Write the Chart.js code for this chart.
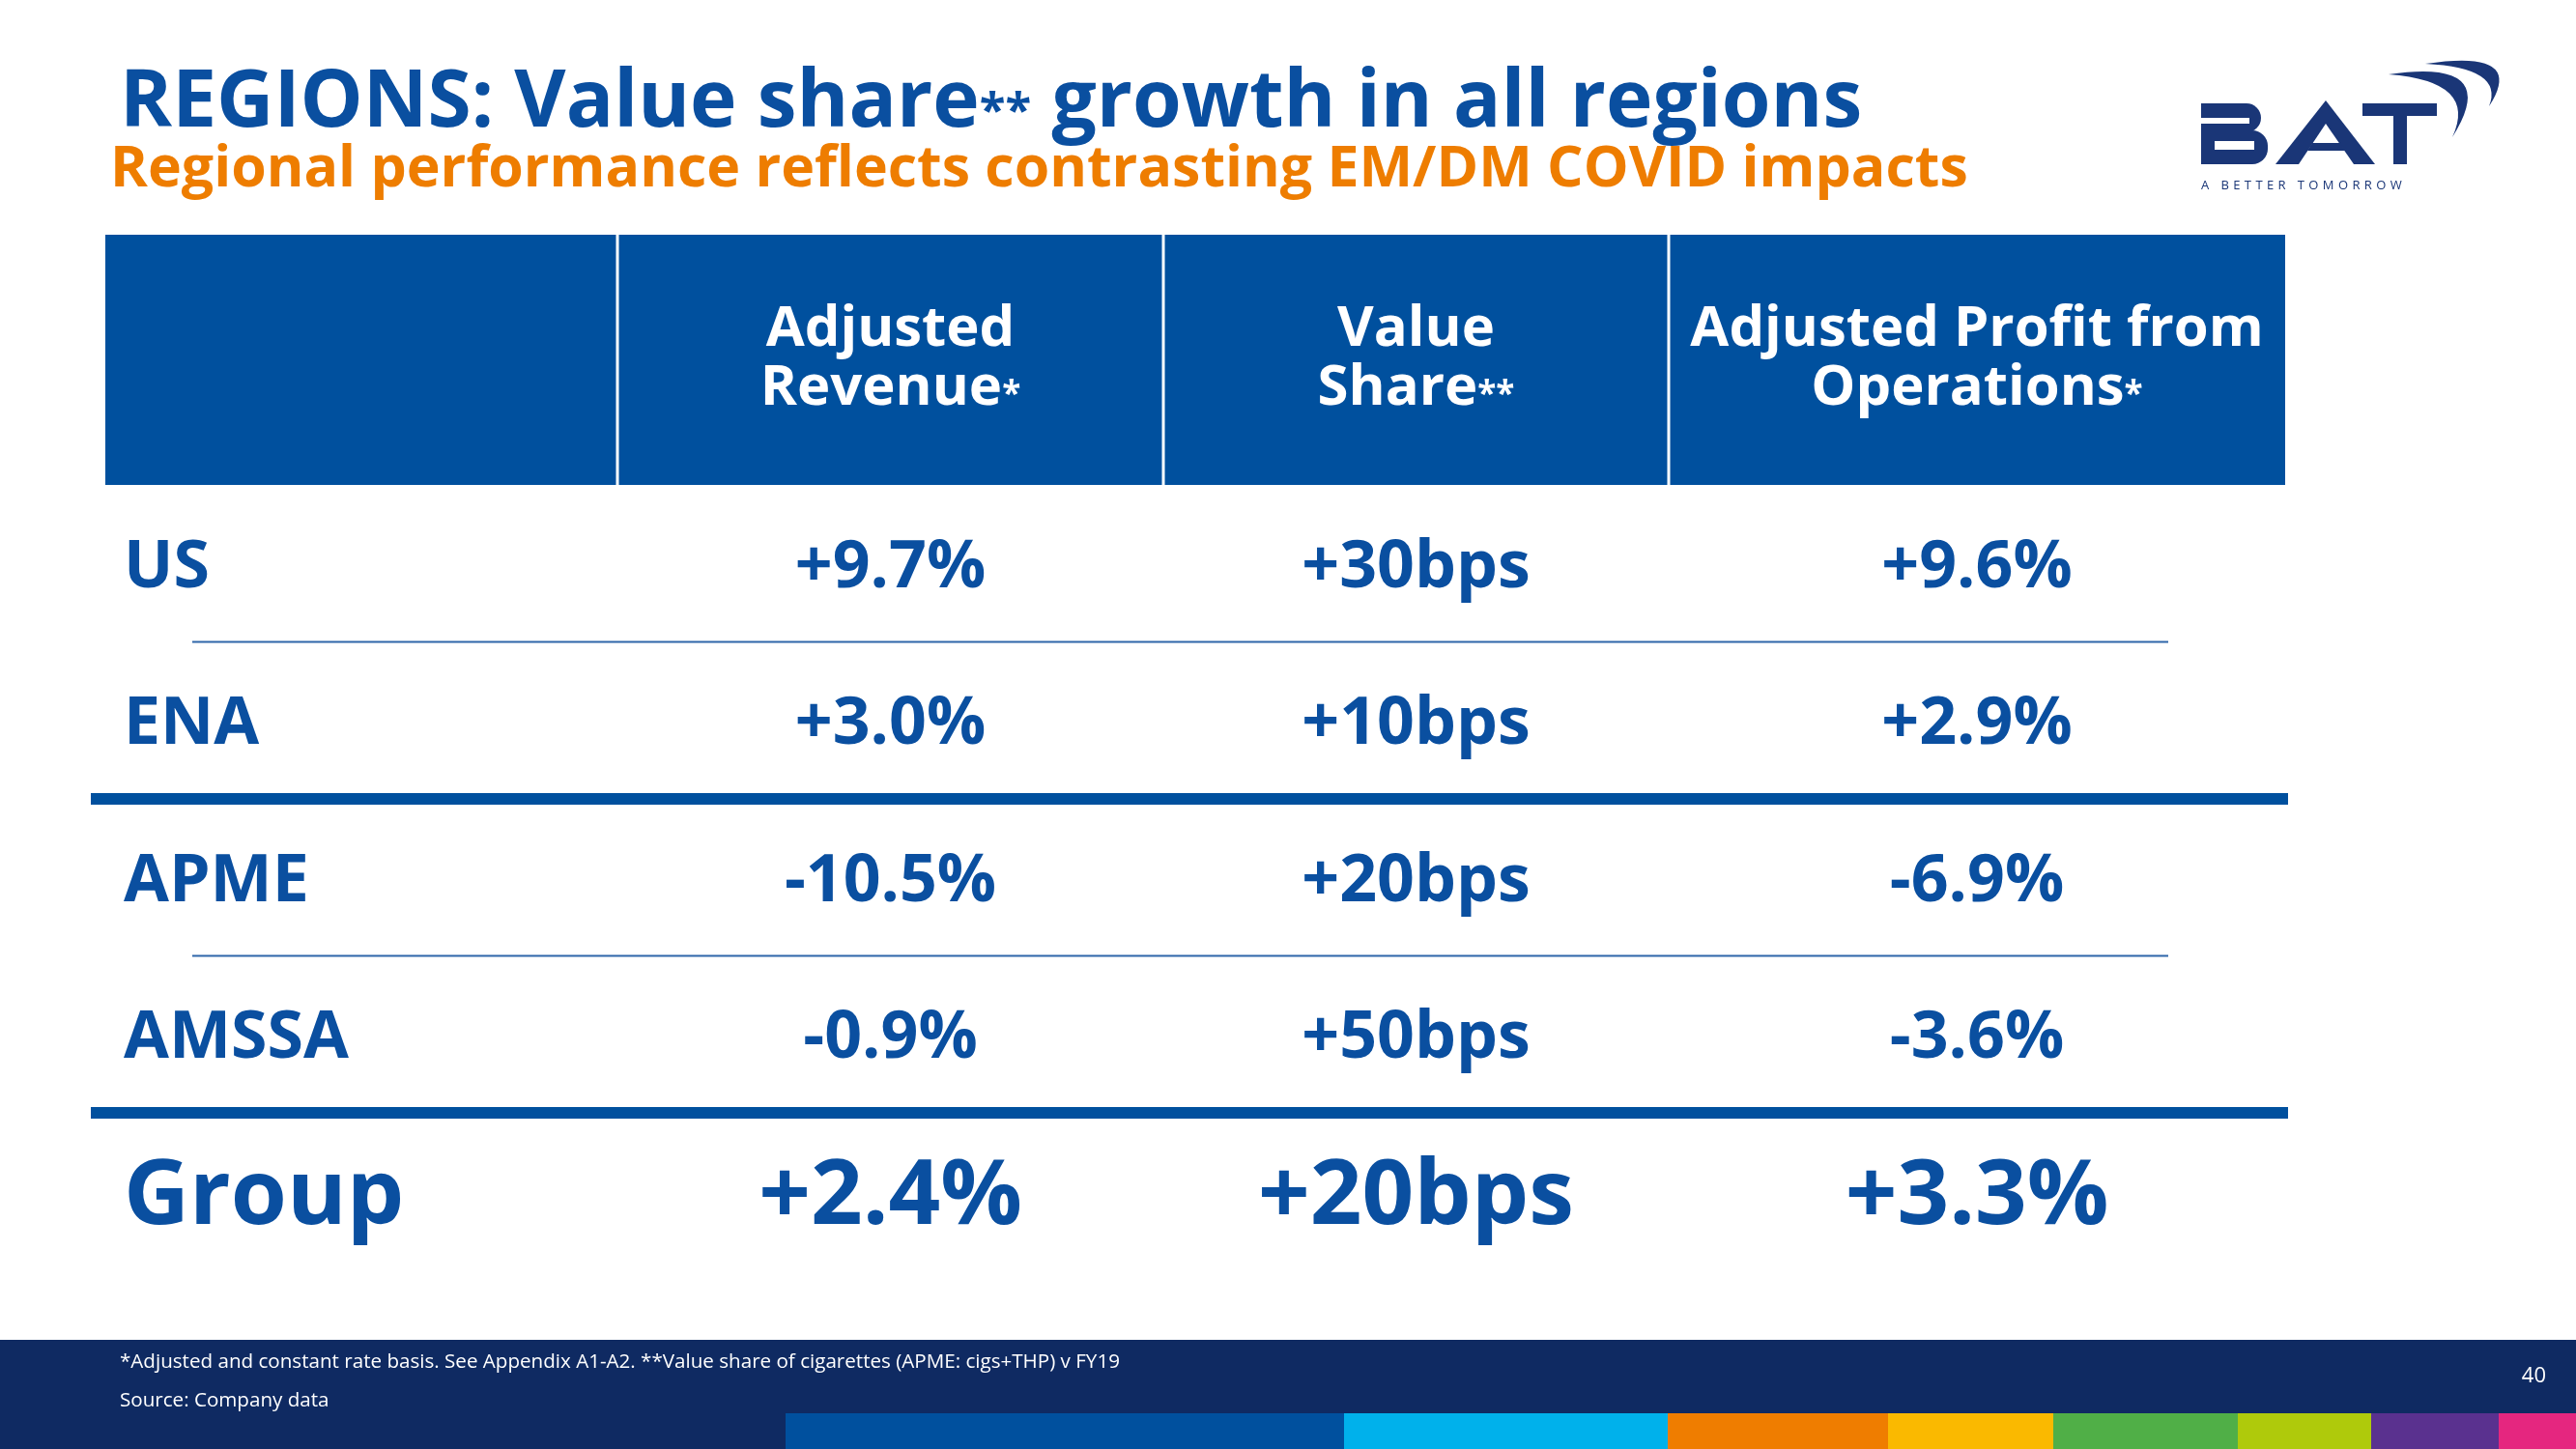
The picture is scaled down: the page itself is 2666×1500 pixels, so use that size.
<!DOCTYPE html>
<html>
<head>
<meta charset="utf-8">
<title>REGIONS: Value share growth in all regions</title>
<script src="https://cdn.jsdelivr.net/npm/chart.js@4.4.1/dist/chart.umd.min.js"></script>
<style>
  html, body { margin: 0; padding: 0; background: #fff; }
  #wrap { width: 2666px; height: 1500px; }
</style>
</head>
<body>
<div id="wrap"><canvas id="slide" width="2666" height="1500"></canvas></div>
<script>
// ---- data ----
const titleText = 'REGIONS: Value share** growth in all regions';
const subtitleText = 'Regional performance reflects contrasting EM/DM COVID impacts';
const regions = ['US', 'ENA', 'APME', 'AMSSA', 'Group'];
const metrics = [['Adjusted', 'Revenue*'], ['Value', 'Share**'], ['Adjusted Profit from', 'Operations*']];
const adjRevenue = ['+9.7%', '+3.0%', '-10.5%', '-0.9%', '+2.4%'];
const valueShare = ['+30bps', '+10bps', '+20bps', '+50bps', '+20bps'];
const adjProfit = ['+9.6%', '+2.9%', '-6.9%', '-3.6%', '+3.3%'];
const footnotes = ['*Adjusted and constant rate basis. See Appendix A1-A2. **Value share of cigarettes (APME: cigs+THP) v FY19', 'Source: Company data'];
const pageNumber = '40';

// ---- layout and style ----
const FONT = '"Open Sans", "Noto Sans", sans-serif';
const INK = '#0a4fa0';
const HEAD_BG = '#00509e';
const ORANGE = '#ee7d00';
const NAVY = '#0f2a62';
const LOGO = '#1a3677';
const colWidths = [530, 565, 523, 638];       // label column + 3 metric columns
const HEADER_H = 259;
const ROW_SIZE = 68, GROUP_SIZE = 94, HEAD_SIZE = 58;
const rowRules = ['thin', 'thick', 'thin', 'thick'];
const stripeColours = ['#00509e', '#00b1eb', '#ef7d00', '#fab900', '#50af47', '#afca0b', '#5a318f', '#e5267f'];
const stripeEdges = [813, 1391, 1726, 1954, 2125, 2316, 2454, 2586, 2666];

const colEdge = k => colWidths.slice(0, k).reduce((s, w) => s + w, 0);
const colMid = k => colEdge(k) + colWidths[k] / 2;

// draw text where runs of '*' are set smaller
function drawRich(ctx, text, x, y, size, align, weight, color) {
  const parts = text.split(/(\*+)/).filter(p => p.length);
  const fontFor = p => `${weight} ${p[0] === '*' ? Math.round(size * 0.6) : size}px ${FONT}`;
  let total = 0;
  const widths = parts.map(p => { ctx.font = fontFor(p); const w = ctx.measureText(p).width; total += w; return w; });
  let cx = align === 'center' ? x - total / 2 : align === 'right' ? x - total : x;
  ctx.textAlign = 'left';
  ctx.textBaseline = 'alphabetic';
  ctx.fillStyle = color;
  parts.forEach((p, i) => { ctx.font = fontFor(p); ctx.fillText(p, cx, y); cx += widths[i]; });
}

function roundRight(ctx, x0, y0, x1, y1, r) {
  ctx.beginPath();
  ctx.moveTo(x0, y0);
  ctx.lineTo(x1 - r, y0);
  ctx.arcTo(x1, y0, x1, y0 + r, r);
  ctx.lineTo(x1, y1 - r);
  ctx.arcTo(x1, y1, x1 - r, y1, r);
  ctx.lineTo(x0, y1);
  ctx.closePath();
  ctx.fill();
}

function drawLogo(ctx) {
  ctx.save();
  ctx.fillStyle = LOGO;
  // B
  roundRight(ctx, 2278, 107, 2340, 137, 15);
  roundRight(ctx, 2278, 135, 2347, 170, 16);
  ctx.fillStyle = '#fff';
  ctx.fillRect(2278, 122, 50, 6);
  ctx.fillRect(2292, 146, 41, 9);
  // A
  ctx.fillStyle = LOGO;
  ctx.beginPath(); ctx.moveTo(2407, 104); ctx.lineTo(2458, 170); ctx.lineTo(2355, 170); ctx.closePath(); ctx.fill();
  ctx.fillStyle = '#fff';
  ctx.beginPath(); ctx.moveTo(2407, 128); ctx.lineTo(2436, 170); ctx.lineTo(2379, 170); ctx.closePath(); ctx.fill();
  ctx.fillStyle = LOGO;
  ctx.beginPath(); ctx.moveTo(2393, 148); ctx.lineTo(2422, 148); ctx.lineTo(2427, 156); ctx.lineTo(2388, 156); ctx.closePath(); ctx.fill();
  // T
  ctx.fillRect(2445, 107, 77, 13);
  ctx.fillRect(2477, 107, 14, 63);
  // swooshes
  ctx.beginPath(); ctx.moveTo(2472, 77); ctx.quadraticCurveTo(2590, 60, 2538, 142); ctx.quadraticCurveTo(2565, 84, 2472, 77); ctx.fill();
  ctx.beginPath(); ctx.moveTo(2510, 66); ctx.quadraticCurveTo(2615, 50, 2576, 110); ctx.quadraticCurveTo(2592, 70, 2510, 66); ctx.fill();
  // strapline
  ctx.font = `500 13px ${FONT}`;
  ctx.letterSpacing = '4.4px';
  ctx.textAlign = 'left';
  ctx.textBaseline = 'alphabetic';
  ctx.fillText('A BETTER TOMORROW', 2278, 196);
  ctx.restore();
}

const slidePlugin = {
  id: 'slide',
  beforeDraw(chart) {
    const { ctx, chartArea: a } = chart;
    const x = chart.scales.x;
    ctx.save();
    ctx.fillStyle = '#fff';
    ctx.fillRect(0, 0, chart.width, chart.height);

    drawRich(ctx, titleText, 124, 131, 82, 'left', 700, INK);
    drawRich(ctx, subtitleText, 114, 193, 59, 'left', 700, ORANGE);
    drawLogo(ctx);

    // header band
    const top = a.top - HEADER_H;
    ctx.fillStyle = HEAD_BG;
    ctx.fillRect(a.left, top, a.right - a.left, HEADER_H);
    ctx.fillStyle = '#fff';
    for (let k = 1; k < colWidths.length; k++) {
      const px = x.getPixelForValue(colEdge(k));
      ctx.fillRect(px - 1.5, top, 3, HEADER_H);
    }
    const mid = top + HEADER_H / 2;
    metrics.forEach((lines, k) => {
      const cx = x.getPixelForValue(colMid(k + 1));
      lines.forEach((ln, j) => drawRich(ctx, ln, cx, mid - 35 + j * 61 + 0.357 * HEAD_SIZE, HEAD_SIZE, 'center', 700, '#fff'));
    });

    // footer
    ctx.fillStyle = NAVY;
    ctx.fillRect(0, 1387, chart.width, 113);
    stripeColours.forEach((c, i) => {
      ctx.fillStyle = c;
      ctx.fillRect(stripeEdges[i], 1463, stripeEdges[i + 1] - stripeEdges[i], 37);
    });
    ctx.fillStyle = '#fff';
    ctx.font = `400 20.6px ${FONT}`;
    ctx.textAlign = 'left';
    ctx.fillText(footnotes[0], 124, 1416);
    ctx.fillText(footnotes[1], 124, 1456);
    ctx.font = `400 22px ${FONT}`;
    ctx.textAlign = 'right';
    ctx.fillText(pageNumber, 2635, 1431);
    ctx.restore();
  },
  afterDatasetsDraw(chart) {
    const { ctx, chartArea: a } = chart;
    const y = chart.scales.y;
    ctx.save();

    // row separators
    rowRules.forEach((kind, i) => {
      const py = (y.getPixelForValue(i) + y.getPixelForValue(i + 1)) / 2;
      if (kind === 'thick') {
        ctx.fillStyle = HEAD_BG;
        ctx.fillRect(a.left - 15, py - 6, a.right - a.left + 18, 12);
      } else {
        ctx.fillStyle = '#2f66a9';
        ctx.fillRect(a.left + 90, py - 1, a.right - a.left - 211, 2);
      }
    });

    // row labels
    regions.forEach((r, i) => {
      const size = i === regions.length - 1 ? GROUP_SIZE : ROW_SIZE;
      drawRich(ctx, r, a.left + 19, y.getPixelForValue(i) + 0.357 * size, size, 'left', 700, INK);
    });

    // cell values
    chart.data.datasets.forEach((ds, d) => {
      const meta = chart.getDatasetMeta(d);
      meta.data.forEach((pt, i) => {
        const size = i === regions.length - 1 ? GROUP_SIZE : ROW_SIZE;
        drawRich(ctx, ds.cells[i], pt.x, pt.y + 0.357 * size, size, 'center', 700, INK);
      });
    });
    ctx.restore();
  }
};

const columnSets = [adjRevenue, valueShare, adjProfit];

new Chart(document.getElementById('slide'), {
  type: 'scatter',
  data: {
    datasets: columnSets.map((vals, k) => ({
      label: metrics[k].join(' '),
      cells: vals,
      data: regions.map(r => ({ x: colMid(k + 1), y: r })),
      pointRadius: 0,
      pointHoverRadius: 0
    }))
  },
  options: {
    responsive: false,
    devicePixelRatio: 1,
    animation: false,
    events: [],
    layout: { padding: { left: 109, right: 301, top: 502, bottom: 185.5 } },
    scales: {
      x: { type: 'linear', min: 0, max: colEdge(colWidths.length), display: false },
      y: { type: 'category', labels: regions, offset: true, display: false }
    },
    plugins: {
      legend: { display: false },
      tooltip: { enabled: false }
    }
  },
  plugins: [slidePlugin]
});
</script>
</body>
</html>
